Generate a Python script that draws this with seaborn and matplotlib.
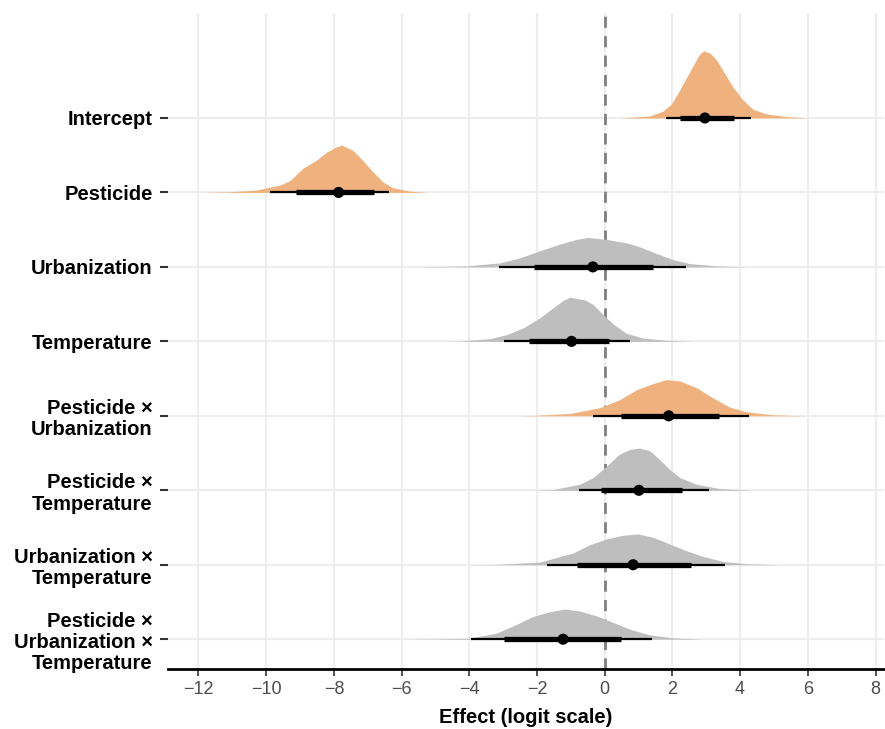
import numpy as np
import pandas as pd
import seaborn as sns
import matplotlib.pyplot as plt

# parameters, top to bottom
terms = ['Intercept', 'Pesticide', 'Urbanization', 'Temperature',
         'Pesticide \u00d7\nUrbanization', 'Pesticide \u00d7\nTemperature',
         'Urbanization \u00d7\nTemperature', 'Pesticide \u00d7\nUrbanization \u00d7\nTemperature']
credible = [True, True, False, False, True, False, False, False]

# posterior summaries (median, 66% and 95% intervals)
median = [2.96, -7.86, -0.35, -0.98, 1.89, 1.01, 0.84, -1.23]
lo66 = [2.22, -9.11, -2.10, -2.24, 0.47, -0.12, -0.81, -2.97]
hi66 = [3.81, -6.82, 1.42, 0.13, 3.37, 2.29, 2.56, 0.49]
lo95 = [1.82, -9.90, -3.13, -2.98, -0.36, -0.76, -1.69, -3.96]
hi95 = [4.31, -6.38, 2.41, 0.74, 4.25, 3.07, 3.55, 1.40]

# posterior densities (x, relative density)
dens_x = [
    [0.44, 1.33, 1.71, 1.97, 2.22, 2.51, 2.81, 2.93, 3.10, 3.30, 3.55, 3.79, 4.08, 4.38, 4.78, 5.38, 5.97],
    [-11.96, -11.08, -10.29, -9.6, -9.3, -8.92, -8.52, -8.22, -7.93, -7.77, -7.44, -7.15, -6.85, -6.56, -6.26, -5.76, -5.23],
    [-5.5, -5.08, -4.08, -3.10, -2.51, -1.92, -1.33, -0.84, -0.50, 0.05, 0.64, 1.03, 1.53, 2.01, 2.51, 3.30, 4.28],
    [-4.7, -4.28, -3.40, -2.90, -2.41, -1.92, -1.53, -1.23, -1.03, -0.84, -0.59, -0.34, -0.05, 0.25, 0.64, 1.13, 1.82, 2.6],
    [-2.6, -2.12, -1.03, -0.15, 0.44, 0.94, 1.42, 1.82, 2.22, 2.71, 3.19, 3.69, 4.18, 4.97, 5.96],
    [-2.2, -1.53, -0.74, -0.34, 0.05, 0.44, 0.74, 1.03, 1.33, 1.62, 1.92, 2.22, 2.71, 3.40, 4.38],
    [-4.0, -3.20, -1.92, -0.94, -0.44, 0.05, 0.54, 0.98, 1.43, 1.92, 2.41, 2.90, 3.49, 4.18, 5.17],
    [-6.0, -5.17, -3.99, -3.20, -2.61, -2.12, -1.62, -1.18, -0.74, -0.25, 0.25, 0.74, 1.33, 2.02, 2.90],
]
dens_y = [
    [0, 0.03, 0.10, 0.21, 0.42, 0.69, 0.96, 1.0, 0.97, 0.87, 0.66, 0.46, 0.27, 0.13, 0.06, 0.02, 0],
    [0, 0.01, 0.035, 0.11, 0.175, 0.36, 0.48, 0.60, 0.68, 0.705, 0.63, 0.48, 0.31, 0.16, 0.07, 0.02, 0],
    [0, 0.005, 0.015, 0.06, 0.135, 0.24, 0.34, 0.41, 0.44, 0.41, 0.36, 0.30, 0.20, 0.11, 0.05, 0.015, 0],
    [0, 0.005, 0.04, 0.10, 0.20, 0.35, 0.50, 0.61, 0.66, 0.64, 0.62, 0.55, 0.40, 0.26, 0.12, 0.05, 0.015, 0],
    [0, 0.005, 0.035, 0.12, 0.24, 0.39, 0.48, 0.54, 0.52, 0.42, 0.27, 0.13, 0.06, 0.015, 0],
    [0, 0.01, 0.09, 0.19, 0.36, 0.54, 0.61, 0.63, 0.59, 0.46, 0.31, 0.19, 0.09, 0.025, 0],
    [0, 0.005, 0.04, 0.175, 0.30, 0.385, 0.44, 0.46, 0.41, 0.31, 0.21, 0.125, 0.05, 0.015, 0],
    [0, 0.005, 0.015, 0.09, 0.22, 0.34, 0.41, 0.45, 0.42, 0.35, 0.25, 0.15, 0.065, 0.02, 0],
]

orange = '#EFB27F'
grey = '#BEBEBE'
height_scale = 0.9

sns.set_theme(style='whitegrid')
plt.rcParams['font.family'] = ['Liberation Sans', 'DejaVu Sans']

fig = plt.figure(figsize=(8.85, 7.29), dpi=100)
ax = fig.add_axes([168 / 885, 1 - 669 / 729, 716 / 885, 656 / 729])

# reference line at zero, behind the densities
ax.axvline(0, color='#7F7F7F', lw=2.0, ls=(0, (4, 3)), zorder=2)

for i in range(len(terms)):
    xs = np.array(dens_x[i])
    hs = np.array(dens_y[i]) * height_scale
    ax.fill_between(xs, i, i - hs, color=orange if credible[i] else grey,
                    lw=0, zorder=3)
    ax.hlines(i, lo95[i], hi95[i], color='black', lw=1.6, zorder=4)
    ax.hlines(i, lo66[i], hi66[i], color='black', lw=3.8, zorder=4)

pts = pd.DataFrame({'median': median, 'row': range(len(terms))})
sns.scatterplot(data=pts, x='median', y='row', color='black', s=64,
                edgecolor='none', zorder=5, ax=ax)

ax.set_xlim(-12.9, 8.25)
ax.set_ylim(7.40, -1.41)
ax.set_xticks(range(-12, 9, 2))
ax.set_yticks(range(len(terms)))
ax.set_yticklabels(terms, fontsize=14.5, fontweight='bold', color='black',
                   linespacing=1.15)
ax.tick_params(axis='x', labelsize=13, labelcolor='#4D4D4D', length=5,
               width=1.2, color='#333333', direction='out', pad=4, bottom=True)
ax.tick_params(axis='y', length=6, width=1.5, color='#333333', pad=5, left=True)

ax.grid(True, color='#EEEEEE', lw=1.6)
ax.set_axisbelow(True)
for side in ['left', 'top', 'right']:
    ax.spines[side].set_visible(False)
ax.spines['bottom'].set_color('black')
ax.spines['bottom'].set_linewidth(2.0)

ax.set_xlabel('Effect (logit scale)', fontsize=14.5, fontweight='bold',
              color='black', labelpad=7)
ax.set_ylabel('')

fig.savefig('out.png', dpi=100)
